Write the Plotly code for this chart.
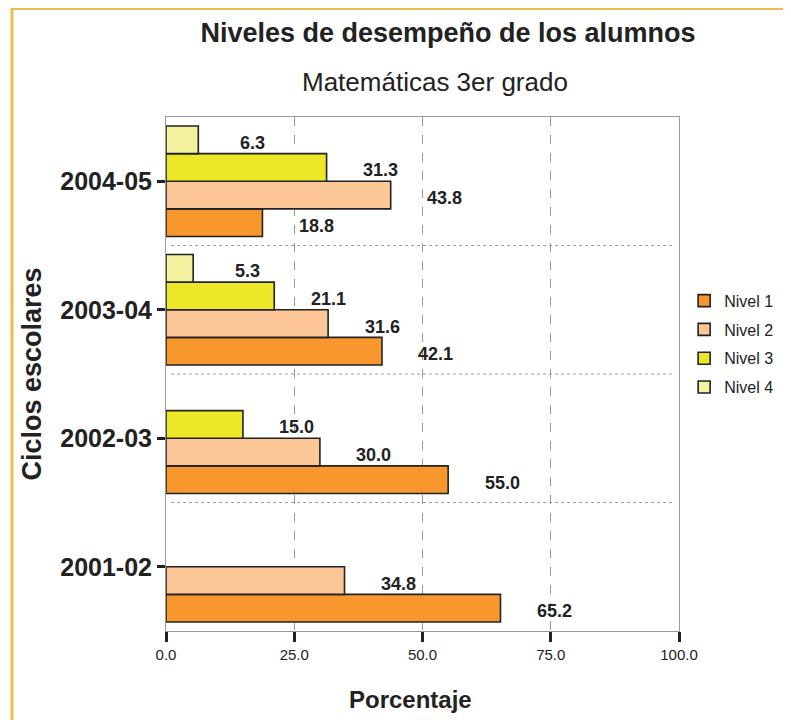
import plotly.graph_objects as go

# Data
ciclos = ["2001-02", "2002-03", "2003-04", "2004-05"]
niveles = ["Nivel 1", "Nivel 2", "Nivel 3", "Nivel 4"]
nivel_1 = [65.2, 55.0, 42.1, 18.8]
nivel_2 = [34.8, 30.0, 31.6, 43.8]
nivel_3 = [None, 15.0, 21.1, 31.3]
nivel_4 = [None, None, 5.3, 6.3]
x_ticks = [0, 25, 50, 75, 100]

series = [nivel_1, nivel_2, nivel_3, nivel_4]
colores = ["#F7972E", "#FCC696", "#ECE828", "#F4F29E"]

FONT = "Liberation Sans, Arial, sans-serif"
W, H = 791, 720
# the page adds an 8px body margin, so the figure is laid out 8px up/left
L, R, T, B = 158, 120, 109, 97
BARGAP = 0.14

fig = go.Figure()

for nombre, valores, color in zip(niveles, series, colores):
    fig.add_trace(go.Bar(
        y=ciclos,
        x=valores,
        name=nombre,
        legendgroup=nombre,
        orientation="h",
        marker=dict(color=color, line=dict(color="#222222", width=1.6)),
    ))

# Value labels, offset to the right of each bar
plot_w = W - L - R
plot_h = H - T - B
slot = plot_h / len(ciclos) * (1 - BARGAP) / len(niveles)
annotations = []
for i, valores in enumerate(series):
    for ciclo, v in zip(ciclos, valores):
        if v is None:
            continue
        annotations.append(dict(
            x=v, y=ciclo, xref="x", yref="y",
            text=f"{v:.1f}", showarrow=False,
            xanchor="center", yanchor="middle",
            xshift=54, yshift=(i - 1.5) * slot - 3,
            font=dict(family=FONT, size=18, color="#222222", weight="bold"),
        ))

# Subtitle
annotations.append(dict(
    x=0.525, y=1.068, xref="paper", yref="paper",
    text="Matemáticas 3er grado", showarrow=False,
    xanchor="center", yanchor="middle",
    font=dict(family=FONT, size=26, color="#222222"),
))

# X axis title (slightly left of plot centre, as in the original)
annotations.append(dict(
    x=0.476, y=-0.134, xref="paper", yref="paper",
    text="Porcentaje", showarrow=False,
    xanchor="center", yanchor="middle",
    font=dict(family=FONT, size=24, color="#222222", weight="bold"),
))

# Dashed separators between cycles + outer frame
shapes = []
for k in range(len(ciclos) - 1):
    shapes.append(dict(
        type="line", xref="paper", yref="y",
        x0=0.01, x1=0.99, y0=k + 0.5, y1=k + 0.5,
        line=dict(color="#999999", width=1, dash="3px,3px"),
    ))
shapes.append(dict(
    type="rect", xref="paper", yref="paper",
    x0=(4 - L) / plot_w, x1=1.3,
    y0=-0.3, y1=(H - B - 0.5) / plot_h,
    line=dict(color="#EDBB4F", width=3),
))

fig.update_layout(
    width=W, height=H,
    margin=dict(l=L, r=R, t=T, b=B),
    paper_bgcolor="white",
    plot_bgcolor="white",
    barmode="group",
    bargap=BARGAP,
    bargroupgap=0,
    title=dict(
        text="Niveles de desempeño de los alumnos",
        x=440 / W, xanchor="center",
        y=1 - 25 / H, yanchor="middle",
        font=dict(family=FONT, size=27, color="#222222", weight="bold"),
    ),
    legend=dict(
        x=1.01, y=0.558, xanchor="left", yanchor="middle",
        traceorder="grouped",
        tracegroupgap=5,
        font=dict(family=FONT, size=16, color="#222222"),
        bgcolor="rgba(0,0,0,0)",
    ),
    xaxis=dict(
        range=[0, 100],
        tickvals=x_ticks,
        tickformat=".1f",
        ticks="outside", ticklen=10, tickwidth=3, tickcolor="#222222",
        tickfont=dict(family=FONT, size=15, color="#222222"),
        showgrid=True, gridcolor="#999999", griddash="dash", gridwidth=1,
        zeroline=False,
        showline=True, linecolor="#999999", linewidth=1, mirror=True,
        automargin=False,
    ),
    yaxis=dict(
        type="category",
        categoryorder="array", categoryarray=ciclos,
        ticks="outside", ticklen=8, tickwidth=3, tickcolor="#222222",
        tickfont=dict(family=FONT, size=25, color="#222222", weight="bold"),
        showgrid=False, zeroline=False,
        showline=True, linecolor="#999999", linewidth=1, mirror=True,
        automargin=False,
        title=dict(text="Ciclos escolares", standoff=10,
                   font=dict(family=FONT, size=27, color="#222222", weight="bold")),
    ),
    annotations=annotations,
    shapes=shapes,
)

fig.write_html("out.html")
